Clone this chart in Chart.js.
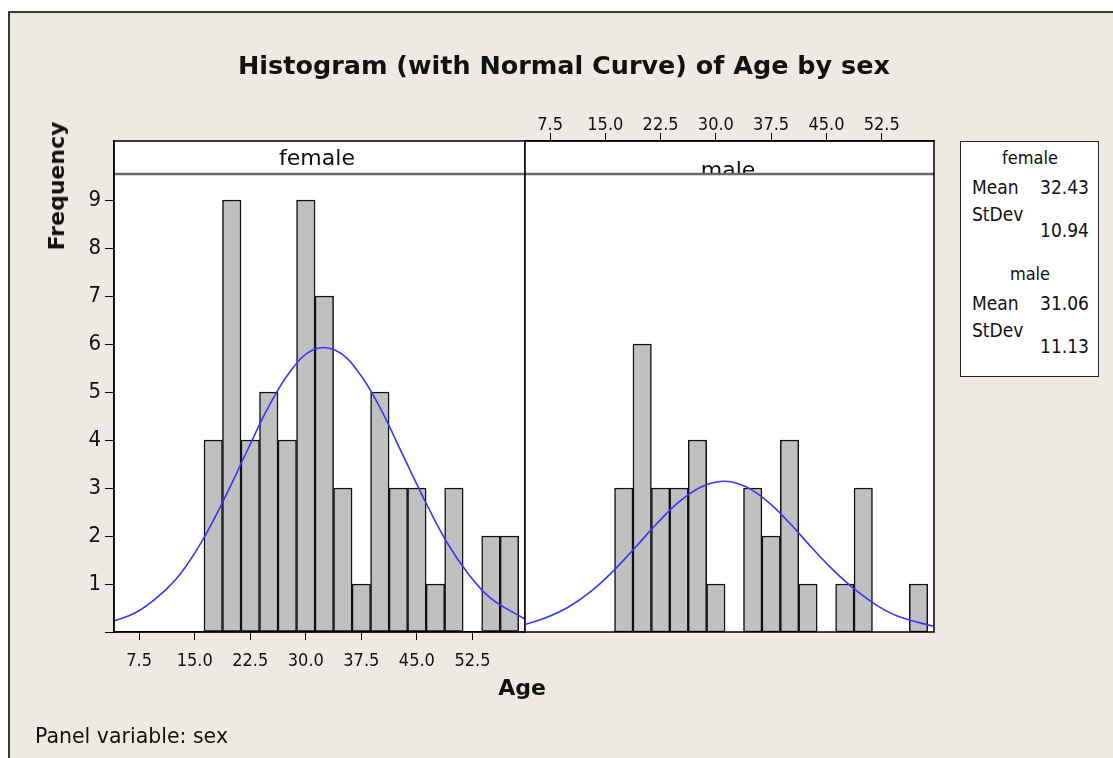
<!DOCTYPE html>
<html>
<head>
<meta charset="utf-8">
<script src="https://cdn.jsdelivr.net/npm/chart.js@4.4.1/dist/chart.umd.min.js"></script>
<style>
  html, body { margin: 0; padding: 0; width: 1113px; height: 758px; overflow: hidden; background: #fff; }
  #frame { position: absolute; left: 8px; top: 11px; width: 1200px; height: 800px;
           border-left: 2px solid #3a3a3a; border-top: 2px solid #3a3a3a; background: #EEEAE3; }
  canvas { position: absolute; left: 0; top: 0; }
  .t { position: absolute; font-family: 'DejaVu Sans', sans-serif; color: #111; white-space: nowrap;
       line-height: 1; transform: translate(-50%, -50%); }
  .c { font-family: 'DejaVu Sans Condensed', 'DejaVu Sans', sans-serif; }
  .l { transform: translate(0, -50%); }
  .r { transform: translate(-100%, -50%); }
  #legend { position: absolute; left: 960px; top: 141px; width: 137px; height: 234px;
            background: #fff; border: 1px solid #222; }
  #maleClip { position: absolute; left: 526px; top: 142px; width: 407px; height: 31px; overflow: hidden; }
</style>
</head>
<body>
<div id="frame"></div>
<canvas id="femaleChart" width="1113" height="758"></canvas>
<canvas id="maleChart" width="1113" height="758"></canvas>

<div class="t" id="title" style="left:564px; top:66px; font-weight:bold;">Histogram (with Normal Curve) of Age by sex</div>
<div class="t" style="left:57px; top:186px; font-weight:bold; font-size:22px; transform:translate(-50%,-50%) rotate(-90deg);">Frequency</div>
<div class="t" style="left:317px; top:158px; font-size:22px;">female</div>
<div id="maleClip"><div class="t" style="left:202px; top:28px; font-size:22px;">male</div></div>
<div class="t" style="left:522px; top:688px; font-weight:bold; font-size:22px;">Age</div>
<div class="t l" style="left:35px; top:736px; font-size:20.5px;">Panel variable: sex</div>

<div id="legend"></div>

<script>
// histogram bins (bin width 2.5) and counts
const binCenters = [17.5, 20, 22.5, 25, 27.5, 30, 32.5, 35, 37.5, 40, 42.5, 45, 47.5, 50, 52.5, 55, 57.5];
const femaleCounts = [4, 9, 4, 5, 4, 9, 7, 3, 1, 5, 3, 3, 1, 3, 0, 2, 2];
const maleCounts   = [3, 6, 3, 3, 4, 1, 0, 3, 2, 4, 1, 0, 1, 3, 0, 0, 1];

// normal curves
const femaleCurveX = [4.1, 7, 10, 13, 16, 19, 22, 25, 28, 31, 34, 37, 40, 43, 46, 49, 52, 55, 59.6];
const femaleCurveY = [0.23, 0.40, 0.73, 1.20, 1.90, 2.78, 3.75, 4.70, 5.45, 5.88, 5.87, 5.44, 4.68, 3.72, 2.76, 1.88, 1.20, 0.70, 0.27];
const maleCurveX = [4.2, 7, 10, 13, 16, 19, 22, 25, 28, 31, 34, 37, 40, 43, 46, 49, 52, 55, 59.5];
const maleCurveY = [0.16, 0.30, 0.52, 0.84, 1.26, 1.75, 2.26, 2.71, 3.02, 3.14, 3.03, 2.72, 2.27, 1.76, 1.28, 0.87, 0.54, 0.31, 0.12];

const ageTicks = [7.5, 15, 22.5, 30, 37.5, 45, 52.5];
const freqTicks = [0, 1, 2, 3, 4, 5, 6, 7, 8, 9];

const legendGroups = ['female', 'male'];
const legendMeans = ['32.43', '31.06'];
const legendStDevs = ['10.94', '11.13'];

// legend box
var legend = document.getElementById('legend');
var html = '';
legendGroups.forEach(function (g, i) {
  var off = i * 116;
  html += '<div class="t c" style="left:69px; top:' + (16 + off) + 'px; font-size:18px;">' + g + '</div>';
  html += '<div class="t c l" style="left:11px; top:' + (45 + off) + 'px; font-size:19px;">Mean</div>';
  html += '<div class="t c r" style="left:128px; top:' + (45 + off) + 'px; font-size:19px;">' + legendMeans[i] + '</div>';
  html += '<div class="t c l" style="left:11px; top:' + (72 + off) + 'px; font-size:19px;">StDev</div>';
  html += '<div class="t c r" style="left:128px; top:' + (88 + off) + 'px; font-size:19px;">' + legendStDevs[i] + '</div>';
});
legend.innerHTML = html;

// fit title width to the reference
(function () {
  var el = document.getElementById('title');
  var m = document.createElement('canvas').getContext('2d');
  m.font = 'bold 100px "DejaVu Sans"';
  var w = m.measureText(el.textContent).width;
  el.style.fontSize = (652 / w * 100).toFixed(2) + 'px';
})();

const STRIP_Y = 174;
const tickFontSmall = { family: "'DejaVu Sans Condensed', 'DejaVu Sans'", size: 18 };

const panelPlugin = {
  id: 'panel',
  beforeDraw(chart) {
    const { ctx, chartArea: a } = chart;
    ctx.save();
    ctx.fillStyle = '#fff';
    ctx.fillRect(a.left, a.top, a.right - a.left, a.bottom - a.top);
    ctx.strokeStyle = '#6a6a6a';
    ctx.lineWidth = 2.5;
    ctx.beginPath();
    ctx.moveTo(a.left, STRIP_Y);
    ctx.lineTo(a.right, STRIP_Y);
    ctx.stroke();
    ctx.restore();
  },
  afterDraw(chart) {
    const { ctx, chartArea: a } = chart;
    ctx.save();
    ctx.strokeStyle = '#000';
    ctx.lineWidth = 1.5;
    ctx.strokeRect(a.left, a.top, a.right - a.left, a.bottom - a.top);
    ctx.restore();
  }
};

function makePanel(id, counts, curveX, curveY, isLeft) {
  var ctx = document.getElementById(id).getContext('2d');
  return new Chart(ctx, {
    type: 'bar',
    data: {
      datasets: [{
        type: 'line',
        data: curveX.map(function (x, i) { return { x: x, y: curveY[i] }; }),
        borderColor: 'rgb(55, 55, 255)',
        borderWidth: 1.6,
        pointRadius: 0,
        tension: 0.4
      }, {
        data: binCenters.map(function (x, i) { return { x: x, y: counts[i] }; }),
        backgroundColor: '#C0C0C0',
        borderColor: '#111',
        borderWidth: 1.5,
        borderSkipped: false,
        barPercentage: 1,
        categoryPercentage: 1
      }]
    },
    options: {
      responsive: false,
      animation: false,
      devicePixelRatio: 1,
      events: [],
      layout: {
        padding: isLeft
          ? { left: 74, top: 141, right: 588, bottom: 66 }
          : { left: 525, top: 81, right: 179, bottom: 126 }
      },
      plugins: { legend: { display: false }, tooltip: { enabled: false } },
      scales: {
        x: {
          type: 'linear',
          position: isLeft ? 'bottom' : 'top',
          min: 4.1,
          max: 59.6,
          offset: false,
          afterBuildTicks: function (s) { s.ticks = ageTicks.map(function (v) { return { value: v }; }); },
          afterFit: function (s) { s.height = 60; },
          grid: { drawOnChartArea: false, drawTicks: true, tickLength: 8, color: '#000', offset: false },
          border: { display: true, color: '#000', width: 1.5 },
          ticks: {
            autoSkip: false, maxRotation: 0, color: '#111', font: tickFontSmall,
            padding: isLeft ? 11 : -3,
            callback: function (v) { return Number(v).toFixed(1); }
          }
        },
        y: {
          display: isLeft,
          min: 0,
          max: 10.23,
          afterBuildTicks: function (s) { s.ticks = freqTicks.map(function (v) { return { value: v }; }); },
          afterFit: function (s) { s.width = isLeft ? 40 : 0; },
          grid: { drawOnChartArea: false, drawTicks: true, tickLength: 9, color: '#000' },
          border: { display: true, color: '#000', width: 1.5 },
          ticks: {
            color: '#111', padding: 4,
            font: { family: "'DejaVu Sans Condensed', 'DejaVu Sans'", size: 22 },
            callback: function (v) { return v === 0 ? '' : String(v); }
          }
        }
      }
    },
    plugins: [panelPlugin]
  });
}

makePanel('femaleChart', femaleCounts, femaleCurveX, femaleCurveY, true);
makePanel('maleChart', maleCounts, maleCurveX, maleCurveY, false);
</script>
</body>
</html>
